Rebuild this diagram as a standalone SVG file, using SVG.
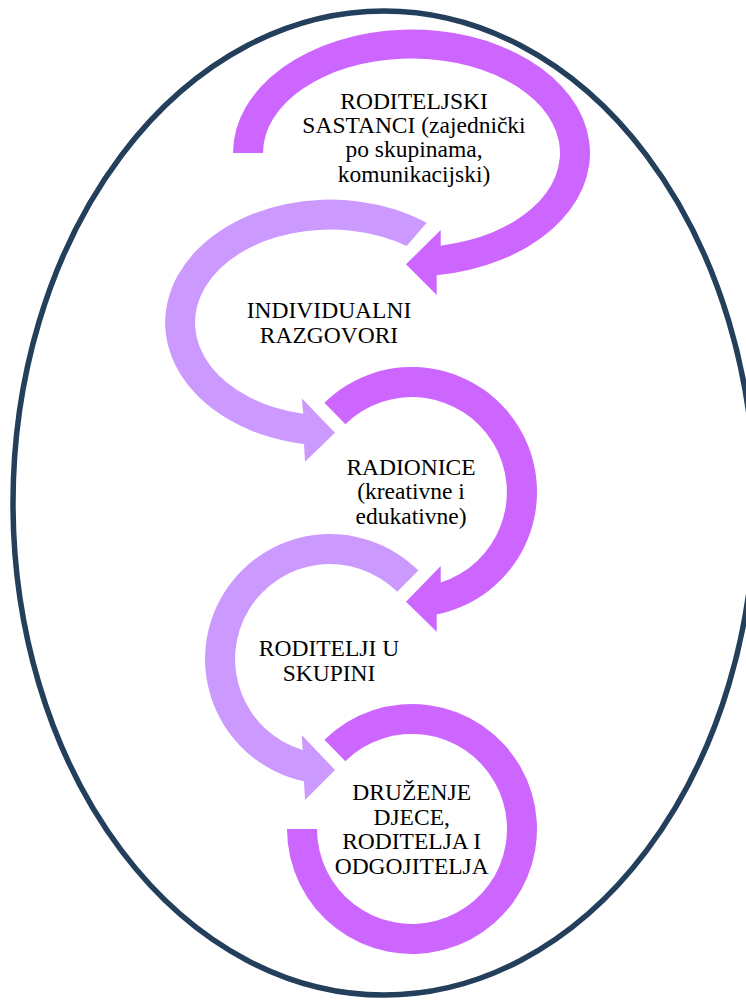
<svg xmlns="http://www.w3.org/2000/svg" width="746" height="1000" viewBox="0 0 746 1000">
<style>
.dark{fill:#CC66FF;}
.light{fill:#CC99FF;}
.lbl{font-family:"Liberation Serif","Times New Roman",serif;font-size:23.5px;fill:#000;text-anchor:middle;}
</style>
<rect x="0" y="0" width="746" height="1000" fill="#FFFFFF"/>
<g id="frame">
<ellipse cx="384" cy="503" rx="371" ry="492" fill="none" stroke="#233F5B" stroke-width="5.5"/>
</g>
<g id="node1">
<path class="dark" d="M 233 153 A 178.5 123.5 0 1 1 436.7 275.3 L 436.7 295 L 406 264.3 L 440.7 230 L 440.7 245.7 A 148.5 94.5 0 1 0 263 153 Z"/>
<text class="lbl" x="414" y="108.5">RODITELJSKI</text>
<text class="lbl" x="414" y="132.9">SASTANCI (zajednički</text>
<text class="lbl" x="414" y="157.3">po skupinama,</text>
<text class="lbl" x="414" y="181.7">komunikacijski)</text>
</g>
<g id="node2">
<path class="light" d="M 426.7 222.8 A 165 123 0 1 0 304 444 L 305 461.7 L 335 432.7 L 301.7 398.3 L 303.3 413.7 A 135 93 0 1 1 406.7 246 Z"/>
<text class="lbl" x="329" y="318.3">INDIVIDUALNI</text>
<text class="lbl" x="329" y="342.7">RAZGOVORI</text>
</g>
<g id="node3">
<path class="dark" d="M 324.4 402.8 A 125 125 0 1 1 436.7 614.5 L 436.7 631.7 L 406 601.7 L 440.7 566 L 440.7 582.6 A 95 95 0 1 0 345.4 424.2 Z"/>
<text class="lbl" x="411" y="474.5">RADIONICE</text>
<text class="lbl" x="411" y="499">(kreativne i</text>
<text class="lbl" x="411" y="523.5">edukativne)</text>
</g>
<g id="node4">
<path class="light" d="M 418.4 570.6 A 125 125 0 1 0 304 781.3 L 305 800 L 335 770 L 301.7 735 L 302.7 750 A 95 95 0 1 1 397.2 591.8 Z"/>
<text class="lbl" x="329" y="656">RODITELJI U</text>
<text class="lbl" x="329" y="680.5">SKUPINI</text>
</g>
<g id="node5">
<path class="dark" d="M 324.4 739.8 A 125 125 0 1 1 287 829 L 317 829 A 95 95 0 1 0 345.4 761.2 Z"/>
<text class="lbl" x="411.7" y="800">DRUŽENJE</text>
<text class="lbl" x="411.7" y="824.5">DJECE,</text>
<text class="lbl" x="411.7" y="849">RODITELJA I</text>
<text class="lbl" x="411.7" y="873.5">ODGOJITELJA</text>
</g>
<g id="connectors"></g>
</svg>
